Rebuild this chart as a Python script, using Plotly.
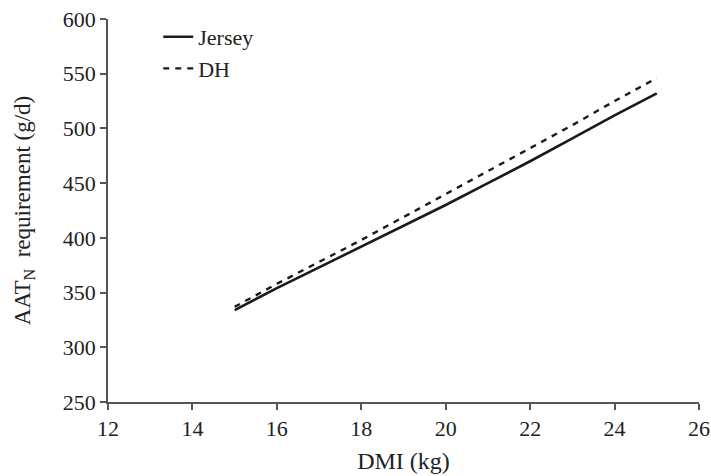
import plotly.graph_objects as go

# Dry matter intake (kg/d)
dmi = [15, 16, 17, 18, 19, 20, 21, 22, 23, 24, 25]

# AAT_N requirement (g/d) by breed
jersey = [334, 354, 373, 392, 411, 430, 450, 470, 491, 512, 532]
dh = [337, 358, 378, 398, 419, 440, 461, 482, 503, 525, 546]

x_ticks = [12, 14, 16, 18, 20, 22, 24, 26]
y_ticks = [250, 300, 350, 400, 450, 500, 550, 600]

font_family = "Liberation Serif, Times New Roman, serif"
ink = "#1a1a1a"
text_color = "#222222"
axis_color = "#555555"

fig = go.Figure()
fig.add_trace(go.Scatter(
    x=dmi, y=jersey, mode="lines", name="Jersey",
    line=dict(color=ink, width=2.6),
))
fig.add_trace(go.Scatter(
    x=dmi, y=dh, mode="lines", name="DH",
    line=dict(color=ink, width=2.4, dash="6px,6px"),
))

axis_common = dict(
    showgrid=False, zeroline=False,
    showline=True, linecolor=axis_color, linewidth=1.5,
    ticks="outside", ticklen=6, tickwidth=1.5, tickcolor=axis_color,
    tickfont=dict(family=font_family, size=22, color=text_color),
    ticklabeloverflow="allow",
    automargin=False,
)

fig.update_layout(
    width=711, height=476,
    margin=dict(l=108, r=12, t=19, b=74),
    paper_bgcolor="white", plot_bgcolor="white",
    font=dict(family=font_family, color=text_color),
    showlegend=True,
    legend=dict(
        x=0.085, y=1.008, xanchor="left", yanchor="top",
        bgcolor="rgba(0,0,0,0)",
        font=dict(family=font_family, size=22, color=text_color),
        tracegroupgap=0,
    ),
    xaxis=dict(
        range=[12, 26], tickvals=x_ticks,
        title=dict(text="DMI (kg)", font=dict(family=font_family, size=24), standoff=12),
        **axis_common,
    ),
    yaxis=dict(
        range=[250, 600], tickvals=y_ticks,
        title=dict(text="AAT<sub>N</sub>  requirement (g/d)", font=dict(family=font_family, size=23), standoff=26),
        **axis_common,
    ),
)

fig.write_html("out.html")
